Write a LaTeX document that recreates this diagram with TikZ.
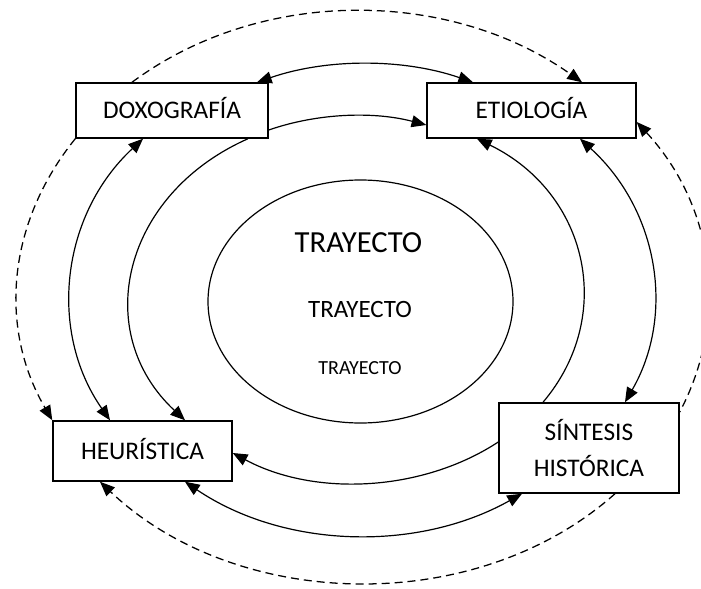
\documentclass[tikz,border=0pt]{standalone}
\usepackage{fontspec}
\setmainfont{Carlito}
\usetikzlibrary{arrows.meta,shapes.geometric}
\begin{document}
\begin{tikzpicture}[x=0.75pt,y=-0.75pt,
  box/.style={draw, line width=1.1pt, inner sep=0pt, align=center,
    font=\fontsize{19}{27.5}\selectfont},
  onebox/.style={box, text height=12.3pt, text depth=0pt},
  ring/.style={line width=0.9pt, >={Triangle[length=11pt,width=9pt]}},
  dring/.style={ring, line width=0.95pt, dash pattern=on 6pt off 3.75pt}]
\useasboundingbox (0,0) rectangle (701,589);
\fill[white] (0,0) rectangle (701,589);
\clip (0,0) rectangle (701,589);

% boxes
\node[onebox, minimum width=144pt, minimum height=41.25pt] (doxo) at (172,110.5) {DOXOGRAFÍA};
\node[onebox, minimum width=156.75pt, minimum height=41.25pt] (etio) at (531.5,110.5) {ETIOLOGÍA};
\node[onebox, minimum width=134.25pt, minimum height=45pt] (heur) at (142.5,451) {HEURÍSTICA};
\node[box, minimum width=135pt, minimum height=67.5pt] (sint) at (589,448) {SÍNTESIS\\HISTÓRICA};

% central ellipse and texts
\node[draw, ellipse, line width=0.9pt, inner sep=0pt, minimum width=228.75pt, minimum height=182.25pt] (core) at (360.5,301.5) {};
\node[font=\fontsize{23}{28}\selectfont] (t1) at (358.5,243) {TRAYECTO};
\node[font=\fontsize{18.7}{22}\selectfont] (t2) at (360,309.5) {TRAYECTO};
\node[font=\fontsize{15}{18}\selectfont] (t3) at (360,368) {TRAYECTO};

% outer solid ring
\draw[ring,<->] ([shift={(85,0)}]doxo.north) .. controls +(70,-24) and +(-70,-24) .. ([shift={(-58.5,0)}]etio.north);
\draw[ring,<->] ([shift={(-29,0)}]doxo.south) .. controls +(-82.3,76.6) and +(-61.9,-88.8) .. ([shift={(-32.5,0)}]heur.north);
\draw[ring,<->] ([shift={(48.5,0)}]etio.south) .. controls +(78.6,71.6) and +(50.4,-87.2) .. ([shift={(36,0)}]sint.north);
\draw[ring,<->] ([shift={(42.5,0)}]heur.south) .. controls +(98.5,66.6) and +(-105.4,58.9) .. ([shift={(-67,0)}]sint.south);

% middle ring
\draw[ring,->] ([shift={(0,19.5)}]doxo.east) .. controls +(50,-17.3) and +(-51.7,-13.6) .. ([shift={(0,14.5)}]etio.west);
\draw[ring,->] ([shift={(76,0)}]doxo.south) .. controls +(-126,55.9) and +(-94.4,-87.9) .. ([shift={(42.5,0)}]heur.north);
\draw[ring,<-] ([shift={(-54.5,0)}]etio.south) .. controls +(110.9,54.2) and +(73.3,-86.6) .. ([shift={(-46,0)}]sint.north);
\draw[ring,->] ([shift={(0,-6)}]sint.west) .. controls +(-76.3,50) and +(81.8,43.9) .. ([shift={(0,2)}]heur.east);

% dashed outer ring
\draw[dring,->] ([shift={(-40,0)}]doxo.north) .. controls +(129.4,-95.9) and +(-132,-93.4) .. ([shift={(50.5,0)}]etio.north);
\draw[dring,<-] ([shift={(0,11.5)}]etio.east) .. controls +(76.9,83.2) and +(50.6,-96.1) .. ([shift={(0,-36)}]sint.east);
\draw[dring,->] ([shift={(26,0)}]sint.south) .. controls +(-140.3,124.8) and +(135.3,128.5) .. ([shift={(-42.5,0)}]heur.south);
\draw[dring,->] (doxo.south west) .. controls +(-68.5,84.9) and +(-53.6,-92) .. (heur.north west);
\end{tikzpicture}
\end{document}
